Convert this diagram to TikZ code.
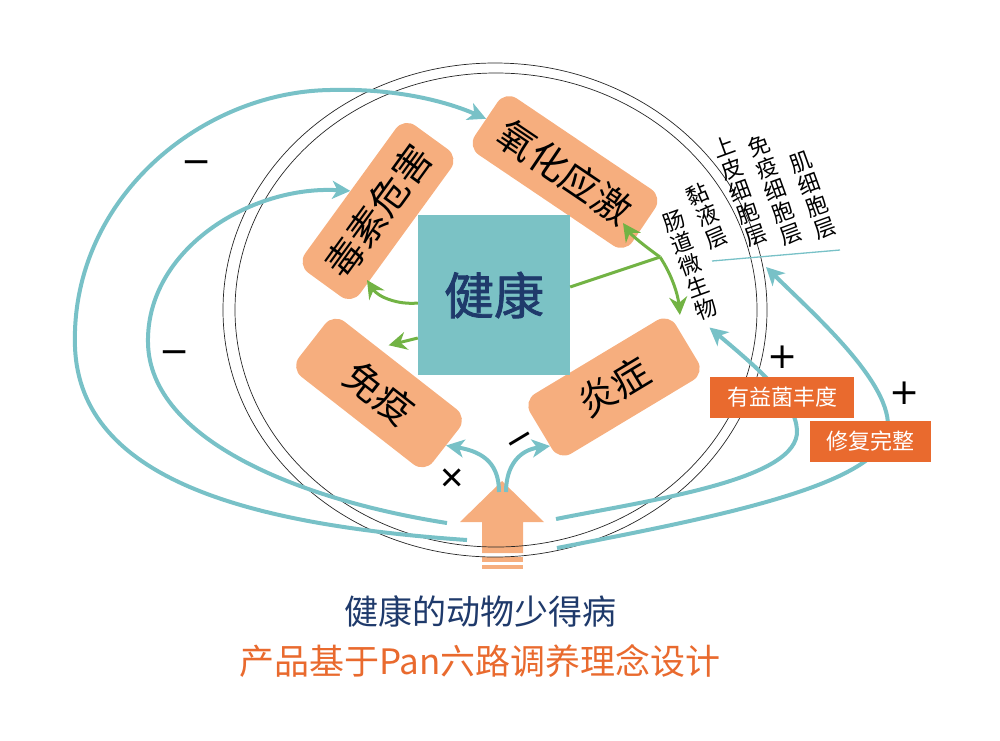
\documentclass[tikz,border=0pt]{standalone}
\usepackage{fontspec}
\newfontfamily\cjk{Noto Sans CJK SC}
\newfontfamily\cjkheavy[FakeBold=1.5]{Noto Sans CJK SC}
\newfontfamily\signfont{DejaVu Sans}
\usetikzlibrary{arrows.meta,calc}
\definecolor{boxorange}{HTML}{F6AE7E}
\definecolor{tealline}{HTML}{78C1C7}
\definecolor{tealbox}{HTML}{7BC2C5}
\definecolor{leafgreen}{HTML}{72B344}
\definecolor{navy}{HTML}{1F3A6B}
\definecolor{tagorange}{HTML}{E96A2E}

\begin{document}
\begin{tikzpicture}[x=1pt, y=-1pt,
    factor/.style={fill=boxorange, rounded corners=14pt, minimum width=#1, minimum height=68pt, inner sep=0pt, font=\cjk\fontsize{38}{40}\selectfont},
    strata/.style={align=center, inner sep=0pt, rotate=20, font=\cjk\fontsize{22}{23.5}\selectfont},
    labeltag/.style={fill=tagorange, text=white, minimum height=41pt, inner sep=0pt, font=\cjk\fontsize{22}{24}\selectfont},
    signmark/.style={inner sep=0pt, font=\signfont\fontsize{36}{36}\selectfont},
    tarrow/.style={draw=tealline, line width=4pt, -{Stealth[length=18pt, width=18pt, inset=5pt]}},
    gline/.style={draw=leafgreen, line width=3pt},
    garrow/.style={gline, -{Stealth[length=18pt, width=18pt, inset=6pt]}}]
    \useasboundingbox (0,0) rectangle (1000,740);

    % big arrow at the bottom
    \fill[boxorange] (502,481) -- (544,522) -- (523,522) -- (523,553) -- (482,553) -- (482,522) -- (460,522) -- cycle;
    \fill[boxorange] (482,557) rectangle (523,562);
    \fill[boxorange] (482,565) rectangle (523,569);

    % circles
    \draw[line width=0.7pt, black!85] (495,310) ellipse [x radius=272, y radius=247];
    \draw[line width=0.7pt, black!85] (496,310) ellipse [x radius=261, y radius=237];

    % Nodes
    \node[factor=182pt, rotate=54] (toxin) at (378,211) {毒素危害};
    \node[factor=190pt, rotate=-34] (oxid) at (565,172) {氧化应激};
    \node[factor=170pt, minimum height=70pt, rotate=-38] (immune) at (379,393) {免疫};
    \node[factor=170pt, minimum height=70pt, rotate=31] (inflam) at (614,387) {炎症};
    \node[fill=tealbox, minimum width=152pt, minimum height=160pt, text=navy, font=\cjkheavy\fontsize{50}{52}\selectfont] (health) at (494,295) {健康};

    \node[strata] (micro) at (690,265) {肠\\道\\微\\生\\物};
    \node[strata, rotate=3] (mucus) at (707,216) {黏\\液\\层};
    \node[strata] (epith) at (740,191) {上\\皮\\细\\胞\\层};
    \node[strata] (immcell) at (775,190) {免\\疫\\细\\胞\\层};
    \node[strata] (muscle) at (813,195) {肌\\细\\胞\\层};
    \draw[tealline, line width=1.3pt] (712,261) -- (840,250);

    % free ends
    \coordinate (srcA) at (467,540);
    \coordinate (srcB) at (447,523);
    \coordinate (srcC) at (556,519);
    \coordinate (srcD) at (557,548);
    \coordinate (stem) at (502,492);
    \coordinate (layers) at (766,267);
    \coordinate (gj) at (660,257);

    % teal loops
    \draw[tarrow] (srcA) .. controls (250,525) and (80,480) .. (75,347) .. controls (70,200) and (200,92) .. (330,90) .. controls (400,88) and (450,103) .. (oxid.west);
    \draw[tarrow] (srcB) .. controls (300,500) and (150,440) .. (148,343) .. controls (146,250) and (250,185) .. (toxin.north);
    \draw[tarrow] (srcC) .. controls (650,500) and (800,480) .. (797,430) .. controls (795,400) and (760,370) .. ([shift={(0,9)}]micro.south);
    \draw[tarrow] (srcD) .. controls (700,520) and (860,490) .. (885,440) .. controls (905,395) and (820,320) .. (layers);
    \draw[tarrow] ([shift={(-3,0)}]stem) .. controls (499,465) and (485,452) .. (immune.east);
    \draw[tarrow] ([shift={(4,0)}]stem) .. controls (506,465) and (520,450) .. ($(inflam.west)!0.5!(inflam.south west)$);

    % green arrows
    \draw[gline] ([shift={(0,-8)}]health.east) -- (gj);
    \draw[garrow] ([shift={(0,8)}]health.west) .. controls (398,305) and (378,297) .. ([shift={(-11,69)}]toxin.center);
    \draw[garrow] ([shift={(0,43)}]health.west) -- ([shift={(-12,-20)}]immune.north);
    \draw[garrow] (gj) .. controls (650,250) and (632,236) .. ([shift={(58,51)}]oxid.center);
    \draw[garrow] (gj) .. controls (672,275) and (678,295) .. ([shift={(11,2)}]inflam.north east);

    % tags
    \node[labeltag, minimum width=144pt] (flora) at (782,397) {有益菌丰度};
    \node[labeltag, minimum width=121pt] (repair) at (870,441) {修复完整};

    % signs
    \node[signmark] (minusA) at (197,167) {−};
    \node[signmark] (minusB) at (175,357) {−};
    \node[signmark, rotate=31] (minusC) at (522,443) {−};
    \node[signmark, rotate=45] (plusA) at (452,478) {+};
    \node[signmark] (plusB) at (783,357) {+};
    \node[signmark] (plusC) at (905,393) {+};

    % titles
    \node[text=navy, font=\cjk\fontsize{34}{36}\selectfont] (title) at (480,611) {健康的动物少得病};
    \node[text=tagorange, font=\cjk\fontsize{35}{37}\selectfont] (slogan) at (480,661) {产品基于Pan六路调养理念设计};
\end{tikzpicture}
\end{document}
